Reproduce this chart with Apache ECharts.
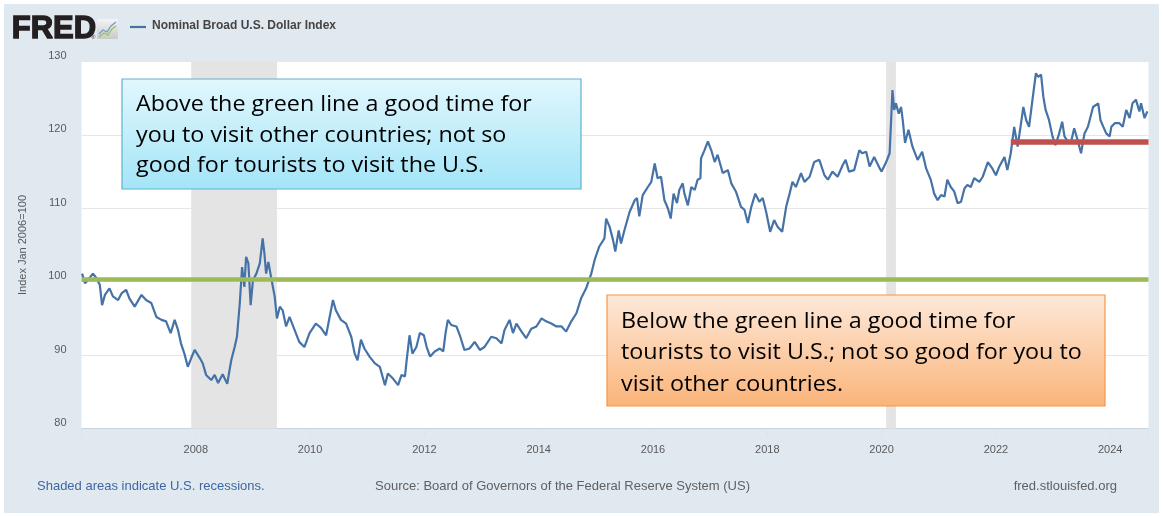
<!DOCTYPE html>
<html>
<head>
<meta charset="utf-8">
<title>Nominal Broad U.S. Dollar Index</title>
<script src="https://cdn.jsdelivr.net/npm/echarts@6/dist/echarts.min.js"></script>
<style>
  html, body { margin: 0; padding: 0; background: #ffffff; }
  #frame { position: absolute; left: 4px; top: 4px; width: 1155px; height: 509px; background: #e1e9f0; }
  #chart { position: absolute; left: 0; top: 0; width: 1162px; height: 516px; }
</style>
</head>
<body>
<div id="frame"></div>
<div id="chart"></div>
<script>
// Observation dates as decimal years
const dates = [
  2006.01, 2006.06, 2006.11, 2006.20, 2006.26, 2006.32, 2006.36, 2006.41, 2006.49, 2006.55,
  2006.64, 2006.70, 2006.78, 2006.84, 2006.93, 2007.05, 2007.13, 2007.22, 2007.31, 2007.40,
  2007.48, 2007.56, 2007.63, 2007.69, 2007.74, 2007.80, 2007.86, 2007.92, 2007.98, 2008.07,
  2008.12, 2008.18, 2008.27, 2008.33, 2008.39, 2008.47, 2008.55, 2008.62, 2008.68, 2008.72,
  2008.77, 2008.81, 2008.85, 2008.88, 2008.92, 2008.96, 2009.00, 2009.06, 2009.12, 2009.17,
  2009.20, 2009.23, 2009.27, 2009.32, 2009.38, 2009.42, 2009.47, 2009.52, 2009.58, 2009.64,
  2009.73, 2009.81, 2009.90, 2009.99, 2010.10, 2010.19, 2010.28, 2010.40, 2010.45, 2010.54,
  2010.63, 2010.72, 2010.78, 2010.83, 2010.89, 2010.95, 2011.04, 2011.13, 2011.22, 2011.31,
  2011.36, 2011.45, 2011.54, 2011.60, 2011.66, 2011.69, 2011.74, 2011.79, 2011.86, 2011.92,
  2011.99, 2012.04, 2012.10, 2012.18, 2012.27, 2012.33, 2012.37, 2012.41, 2012.47, 2012.56,
  2012.62, 2012.70, 2012.79, 2012.88, 2012.97, 2013.05, 2013.17, 2013.26, 2013.35, 2013.40,
  2013.49, 2013.55, 2013.61, 2013.70, 2013.78, 2013.87, 2013.96, 2014.05, 2014.13, 2014.22,
  2014.31, 2014.40, 2014.48, 2014.57, 2014.66, 2014.74, 2014.83, 2014.92, 2014.98, 2015.06,
  2015.15, 2015.18, 2015.24, 2015.30, 2015.34, 2015.40, 2015.44, 2015.50, 2015.59, 2015.68,
  2015.72, 2015.76, 2015.82, 2015.91, 2015.97, 2016.03, 2016.08, 2016.14, 2016.20, 2016.26,
  2016.31, 2016.36, 2016.42, 2016.46, 2016.52, 2016.55, 2016.61, 2016.67, 2016.73, 2016.78,
  2016.83, 2016.84, 2016.90, 2016.96, 2017.02, 2017.08, 2017.13, 2017.22, 2017.31, 2017.37,
  2017.45, 2017.54, 2017.60, 2017.66, 2017.72, 2017.79, 2017.86, 2017.92, 2017.98, 2018.05,
  2018.12, 2018.18, 2018.26, 2018.33, 2018.39, 2018.44, 2018.50, 2018.59, 2018.65, 2018.74,
  2018.82, 2018.91, 2019.00, 2019.06, 2019.14, 2019.23, 2019.32, 2019.37, 2019.43, 2019.52,
  2019.61, 2019.66, 2019.73, 2019.79, 2019.87, 2019.97, 2020.00, 2020.08, 2020.14, 2020.19,
  2020.22, 2020.25, 2020.30, 2020.34, 2020.37, 2020.41, 2020.47, 2020.54, 2020.63, 2020.71,
  2020.78, 2020.86, 2020.92, 2020.98, 2021.04, 2021.10, 2021.15, 2021.21, 2021.27, 2021.33,
  2021.39, 2021.45, 2021.50, 2021.56, 2021.62, 2021.71, 2021.77, 2021.86, 2021.94, 2022.00,
  2022.06, 2022.15, 2022.20, 2022.26, 2022.32, 2022.38, 2022.44, 2022.48, 2022.53, 2022.58,
  2022.64, 2022.70, 2022.74, 2022.79, 2022.83, 2022.87, 2022.93, 2022.99, 2023.04, 2023.10,
  2023.16, 2023.20, 2023.26, 2023.31, 2023.37, 2023.43, 2023.49, 2023.55, 2023.61, 2023.70,
  2023.79, 2023.83, 2023.88, 2023.93, 2023.99, 2024.02, 2024.08, 2024.16, 2024.22, 2024.28,
  2024.34, 2024.39, 2024.45, 2024.51, 2024.54, 2024.60, 2024.65
];

// Nominal Broad U.S. Dollar Index (Jan 2006 = 100)
const dollarIndex = [
  101.1, 99.8, 100.2, 101.1, 100.5, 99.6, 96.8, 98.2, 99.1, 98.0,
  97.5, 98.4, 98.9, 97.7, 96.6, 98.2, 97.5, 97.1, 95.2, 94.8,
  94.6, 93.0, 94.8, 93.4, 91.6, 90.2, 88.4, 89.6, 90.7, 89.6,
  88.9, 87.3, 86.6, 87.3, 86.2, 87.4, 86.1, 89.3, 91.1, 92.5,
  97.1, 102.0, 99.3, 103.4, 102.5, 96.8, 100.2, 101.1, 102.5, 105.9,
  103.9, 101.1, 102.7, 100.5, 98.0, 95.0, 96.6, 96.1, 93.9, 95.2,
  93.4, 91.8, 91.1, 93.0, 94.3, 93.7, 92.7, 97.5, 96.1, 94.8,
  94.3, 92.5, 90.2, 89.3, 92.1, 90.9, 89.8, 88.9, 88.4, 85.9,
  87.5, 86.8, 85.9, 87.3, 87.1, 89.3, 92.7, 90.2, 91.1, 93.0,
  92.7, 91.1, 89.8, 90.5, 90.9, 90.5, 93.0, 94.8, 94.1, 93.9,
  92.7, 90.7, 90.9, 91.8, 90.7, 91.1, 92.5, 92.3, 91.6, 93.4,
  94.8, 93.0, 94.3, 93.2, 92.3, 93.6, 93.9, 95.0, 94.6, 94.3,
  93.9, 93.9, 93.2, 94.6, 95.7, 97.7, 99.1, 101.1, 103.0, 104.8,
  105.9, 108.6, 107.5, 105.7, 104.1, 107.0, 105.2, 107.0, 109.5, 111.1,
  111.4, 108.9, 111.8, 112.9, 113.6, 116.1, 114.1, 114.3, 111.1, 110.0,
  108.6, 112.0, 110.7, 112.5, 113.4, 112.0, 110.4, 112.9, 112.5, 113.9,
  114.1, 116.8, 117.9, 119.1, 117.9, 116.3, 117.3, 114.8, 115.2, 113.4,
  112.3, 110.2, 109.8, 108.0, 110.2, 112.0, 110.9, 111.4, 109.5, 106.8,
  108.4, 107.5, 106.8, 110.2, 112.0, 113.6, 112.9, 114.8, 113.6, 114.3,
  116.3, 116.6, 114.5, 113.9, 115.0, 114.3, 115.9, 116.6, 115.0, 115.2,
  117.9, 117.5, 117.7, 115.7, 117.0, 115.4, 115.0, 116.3, 117.5, 126.1,
  123.4, 124.3, 122.9, 123.8, 122.0, 118.9, 120.7, 118.4, 116.6, 117.7,
  115.4, 113.9, 112.0, 111.1, 111.8, 111.6, 113.9, 112.9, 112.3, 110.7,
  110.9, 112.7, 113.2, 112.9, 114.1, 113.6, 114.3, 116.3, 115.4, 114.5,
  115.7, 117.0, 115.2, 117.5, 121.1, 118.4, 121.6, 123.8, 122.0, 121.1,
  124.8, 128.4, 127.9, 128.2, 125.2, 123.4, 122.0, 119.8, 118.6, 120.0,
  121.8, 119.8, 119.1, 118.9, 120.9, 119.3, 117.5, 120.2, 121.1, 123.8,
  124.3, 122.0, 121.1, 120.2, 119.8, 121.1, 121.6, 121.6, 121.1, 123.4,
  122.3, 124.3, 124.8, 123.2, 124.3, 122.3, 123.2
];

// U.S. recessions (start, end) in decimal years
const recessionStart = [2007.92, 2020.08];
const recessionEnd = [2009.42, 2020.25];

// Reference levels drawn across the chart
const parityLevel = 100.4;
const recentFloor = 119.0;
const recentFloorStart = 2022.26;

const xMin = 2006;
const xMax = 2024.67;
const yTicks = [80, 90, 100, 110, 120, 130];

const blueNote = 'Above the green line a good time for\nyou to visit other countries; not so\ngood for tourists to visit the U.S.';
const orangeNote = 'Below the green line a good time for\ntourists to visit U.S.; not so good for you to\nvisit other countries.';

const chart = echarts.init(document.getElementById('chart'), null, { renderer: 'canvas' });

const seriesData = dates.map((d, i) => [d, dollarIndex[i]]);
const recessionAreas = recessionStart.map((s, i) => [{ xAxis: s }, { xAxis: recessionEnd[i] }]);

const axisFont = 'Liberation Sans, Arial, sans-serif';
const noteFamily = 'Open Sans';
// callout text is set slightly wide to read like a Calibri text box
const noteStretch = 1.11;

const option = {
  animation: false,
  grid: {
    left: 81.5, right: 13.5, top: 61.5, bottom: 87.5,
    show: true, backgroundColor: '#ffffff', borderWidth: 0
  },
  xAxis: {
    type: 'value',
    min: xMin,
    max: xMax,
    interval: 2,
    axisLine: { lineStyle: { color: '#c9d4df', width: 1 } },
    axisTick: { show: true, length: 8, lineStyle: { color: '#dde3ea' } },
    splitLine: { show: false },
    axisLabel: {
      margin: 16,
      color: '#595959',
      fontSize: 11,
      fontFamily: axisFont,
      formatter: v => (Number.isInteger(v) && v > xMin) ? String(v) : ''
    }
  },
  yAxis: {
    type: 'value',
    min: yTicks[0],
    max: yTicks[yTicks.length - 1],
    interval: 10,
    name: 'Index Jan 2006=100',
    nameLocation: 'middle',
    nameGap: 53,
    nameTextStyle: { color: '#595959', fontSize: 11, fontFamily: axisFont },
    axisLine: { show: false },
    axisTick: { show: false },
    splitLine: { lineStyle: { color: '#e6e6e6', width: 1 } },
    axisLabel: {
      margin: 15,
      color: '#595959',
      fontSize: 11,
      fontFamily: axisFont,
      verticalAlign: 'bottom'
    }
  },
  series: [
    {
      name: 'Nominal Broad U.S. Dollar Index',
      type: 'line',
      data: seriesData,
      showSymbol: false,
      z: 3,
      lineStyle: { color: '#4572a7', width: 2.2 },
      markArea: {
        silent: true,
        itemStyle: { color: '#e4e4e4' },
        data: recessionAreas
      }
    },
    {
      name: 'levels',
      type: 'line',
      data: [],
      z: 4,
      markLine: {
        silent: true,
        symbol: 'none',
        label: { show: false },
        data: [
          [
            { coord: [xMin, parityLevel], lineStyle: { color: '#9bbb59', width: 4.5, type: 'solid' } },
            { coord: [xMax, parityLevel] }
          ],
          [
            { coord: [recentFloorStart, recentFloor], lineStyle: { color: '#c0504d', width: 5.5, type: 'solid' } },
            { coord: [xMax, recentFloor] }
          ]
        ]
      }
    }
  ],
  graphic: [
    // FRED wordmark
    {
      type: 'text', left: 11, top: 13, z: 100,
      style: {
        text: 'FRED', fontSize: 31, fontWeight: 'bold', fontFamily: 'Liberation Sans',
        fill: '#231f20', stroke: '#231f20', lineWidth: 1.4
      }
    },
    {
      type: 'text', left: 91, top: 34, z: 100,
      style: { text: '®', fontSize: 6, fontFamily: 'Liberation Sans', fill: '#231f20' }
    },
    // small chart glyph beside the wordmark
    {
      type: 'rect', shape: { x: 97, y: 19, width: 21, height: 20, r: 1 }, z: 100,
      style: {
        fill: new echarts.graphic.LinearGradient(0, 0, 0, 1, [
          { offset: 0, color: '#f4f4f4' }, { offset: 1, color: '#c9c9c9' }
        ])
      }
    },
    {
      type: 'polyline', z: 101,
      shape: { points: [[99, 34], [103, 30], [107, 32], [111, 26], [116, 22]] },
      style: { stroke: '#6f9ad0', lineWidth: 1.2, fill: null }
    },
    {
      type: 'polyline', z: 101,
      shape: { points: [[99, 37], [104, 33], [108, 35], [112, 29], [116, 26]] },
      style: { stroke: '#93c05a', lineWidth: 1.2, fill: null }
    },
    // legend entry
    {
      type: 'line', z: 100,
      shape: { x1: 130, y1: 27, x2: 146, y2: 27 },
      style: { stroke: '#4572a7', lineWidth: 2.2 }
    },
    {
      type: 'text', left: 152, top: 20, z: 100,
      style: { text: 'Nominal Broad U.S. Dollar Index', fontSize: 12, fontWeight: 'bold', fontFamily: 'Liberation Sans', fill: '#444444' }
    },
    // note above the parity line
    {
      type: 'rect', z: 100,
      shape: { x: 122, y: 79, width: 459, height: 110 },
      style: {
        fill: new echarts.graphic.LinearGradient(0, 0, 0, 1, [
          { offset: 0, color: '#e2f7fd' }, { offset: 1, color: '#a3e5f8' }
        ]),
        stroke: '#5fb3ca', lineWidth: 1.2
      }
    },
    {
      type: 'text', z: 101, x: 136, y: 90, scaleX: noteStretch,
      style: { text: blueNote, fontSize: 21, fontFamily: noteFamily, fill: '#000000', lineHeight: 30.5 }
    },
    // note below the parity line
    {
      type: 'rect', z: 100,
      shape: { x: 607, y: 295, width: 498, height: 111 },
      style: {
        fill: new echarts.graphic.LinearGradient(0, 0, 0, 1, [
          { offset: 0, color: '#fde9da' }, { offset: 1, color: '#fbb479' }
        ]),
        stroke: '#f79646', lineWidth: 1.2
      }
    },
    {
      type: 'text', z: 101, x: 621, y: 306, scaleX: noteStretch,
      style: { text: orangeNote, fontSize: 21, fontFamily: noteFamily, fill: '#000000', lineHeight: 31.5 }
    },
    // footer
    {
      type: 'text', left: 37, top: 480, z: 100,
      style: { text: 'Shaded areas indicate U.S. recessions.', fontSize: 13, fontFamily: 'Liberation Sans', fill: '#3e66a3' }
    },
    {
      type: 'text', left: 375, top: 480, z: 100,
      style: { text: 'Source: Board of Governors of the Federal Reserve System (US)', fontSize: 13, fontFamily: 'Liberation Sans', fill: '#606060' }
    },
    {
      type: 'text', right: 45, top: 480, z: 100,
      style: { text: 'fred.stlouisfed.org', fontSize: 13, fontFamily: 'Liberation Sans', fill: '#606060' }
    }
  ]
};

chart.setOption(option);
</script>
</body>
</html>
